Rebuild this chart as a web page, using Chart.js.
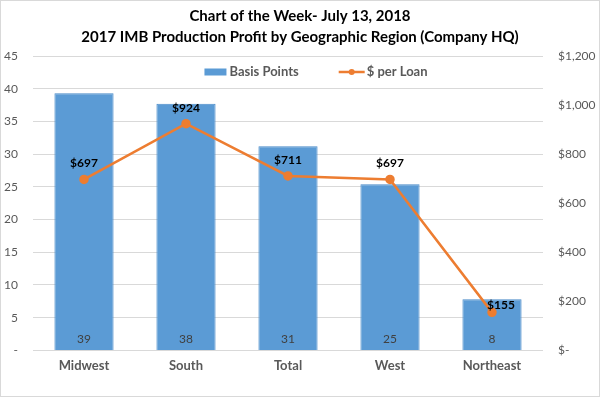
<!DOCTYPE html>
<html>
<head>
<meta charset="utf-8">
<script src="https://cdn.jsdelivr.net/npm/chart.js@4.4.1/dist/chart.umd.min.js"></script>
<style>
  html, body { margin: 0; padding: 0; background: #fff; }
  #wrap { width: 598px; height: 395px; border: 1px solid #d9d9d9; }
</style>
</head>
<body>
<div id="wrap"><canvas id="chart" width="598" height="395"></canvas></div>
<script>
// chart data
const regions = ['Midwest', 'South', 'Total', 'West', 'Northeast'];
const basisPoints = [39.3, 37.7, 31.2, 25.4, 7.8];
const basisLabels = ['39', '38', '31', '25', '8'];
const perLoan = [697, 924, 711, 697, 155];
const titleLines = ['Chart of the Week- July 13, 2018', '2017 IMB Production Profit by Geographic Region (Company HQ)'];

const FONT = 'Lato, "Open Sans", sans-serif';
const BLUE = '#5B9BD5';
const ORANGE = '#ED7D31';

// value labels + excel style legend sitting inside the plot
const extras = {
    id: 'extras',
    afterDatasetsDraw(chart) {
        const ctx = chart.ctx;
        ctx.save();
        ctx.textAlign = 'center';
        ctx.textBaseline = 'middle';

        const bars = chart.getDatasetMeta(1).data;
        ctx.font = '12px ' + FONT;
        ctx.fillStyle = '#404040';
        bars.forEach((b, i) => {
            ctx.fillText(basisLabels[i], b.x, b.base - 11);
        });

        const pts = chart.getDatasetMeta(0).data;
        ctx.font = 'bold 12px ' + FONT;
        ctx.fillStyle = '#000';
        pts.forEach((p, i) => {
            let dx = 0, dy = -16;
            if (i === pts.length - 1) { dx = 9; dy = -7; } // excel nudged this one
            ctx.fillText('$' + perLoan[i], p.x + dx, p.y + dy);
        });

        // legend
        const area = chart.chartArea;
        const ly = area.top + 16;
        ctx.font = 'bold 13px ' + FONT;
        ctx.textAlign = 'left';
        const t1 = 'Basis Points', t2 = '$ per Loan';
        const w1 = ctx.measureText(t1).width, w2 = ctx.measureText(t2).width;
        const total = 22 + 3 + w1 + 40 + 26 + 2 + w2;
        let x = (area.left + area.right) / 2 + 28 - total / 2;
        ctx.fillStyle = BLUE;
        ctx.fillRect(x, ly - 3.5, 22, 7);
        x += 25;
        ctx.fillStyle = '#595959';
        ctx.fillText(t1, x, ly);
        x += w1 + 40;
        ctx.strokeStyle = ORANGE;
        ctx.lineWidth = 2.5;
        ctx.beginPath(); ctx.moveTo(x, ly); ctx.lineTo(x + 26, ly); ctx.stroke();
        ctx.fillStyle = ORANGE;
        ctx.beginPath(); ctx.arc(x + 13, ly, 3, 0, Math.PI * 2); ctx.fill();
        x += 28;
        ctx.fillStyle = '#595959';
        ctx.fillText(t2, x, ly);
        ctx.restore();
    }
};

const ctx = document.getElementById('chart').getContext('2d');
new Chart(ctx, {
    data: {
        labels: regions,
        datasets: [
            {
                type: 'line',
                label: '$ per Loan',
                data: perLoan,
                yAxisID: 'y1',
                borderColor: ORANGE,
                backgroundColor: ORANGE,
                borderWidth: 2.5,
                pointRadius: 3.5,
                pointBackgroundColor: ORANGE,
                tension: 0,
                order: 0
            },
            {
                type: 'bar',
                label: 'Basis Points',
                data: basisPoints,
                yAxisID: 'y',
                backgroundColor: BLUE,
                borderColor: '#4A8BC9',
                borderWidth: 1,
                barPercentage: 0.58,
                categoryPercentage: 1,
                order: 1
            }
        ]
    },
    options: {
        responsive: false,
        animation: false,
        layout: { padding: { left: 0, right: 0, top: 2, bottom: 22 } },
        plugins: {
            title: {
                display: true,
                text: titleLines,
                color: '#000',
                font: { family: FONT, size: 15, weight: 'bold', lineHeight: 1.4 },
                padding: { top: 3, bottom: 8 }
            },
            legend: { display: false },
            tooltip: { enabled: false }
        },
        scales: {
            x: {
                grid: { display: false },
                border: { display: false },
                ticks: { color: '#595959', font: { family: FONT, size: 13, weight: 'bold' }, padding: 0 }
            },
            y: {
                position: 'left',
                min: 0, max: 45,
                afterFit: s => { s.width = 32; },
                ticks: {
                    stepSize: 5,
                    color: '#595959',
                    font: { family: FONT, size: 12 },
                    padding: 15,
                    callback: v => v === 0 ? '-' : v
                },
                grid: { color: '#d9d9d9', drawTicks: false },
                border: { display: false }
            },
            y1: {
                position: 'right',
                min: 0, max: 1200,
                afterFit: s => { s.width = 56; },
                ticks: {
                    stepSize: 200,
                    color: '#595959',
                    font: { family: FONT, size: 12 },
                    padding: 15,
                    callback: v => v === 0 ? '$-' : '$' + v.toLocaleString('en-US')
                },
                grid: { drawOnChartArea: false, drawTicks: false },
                border: { display: false }
            }
        }
    },
    plugins: [extras]
});
</script>
</body>
</html>
